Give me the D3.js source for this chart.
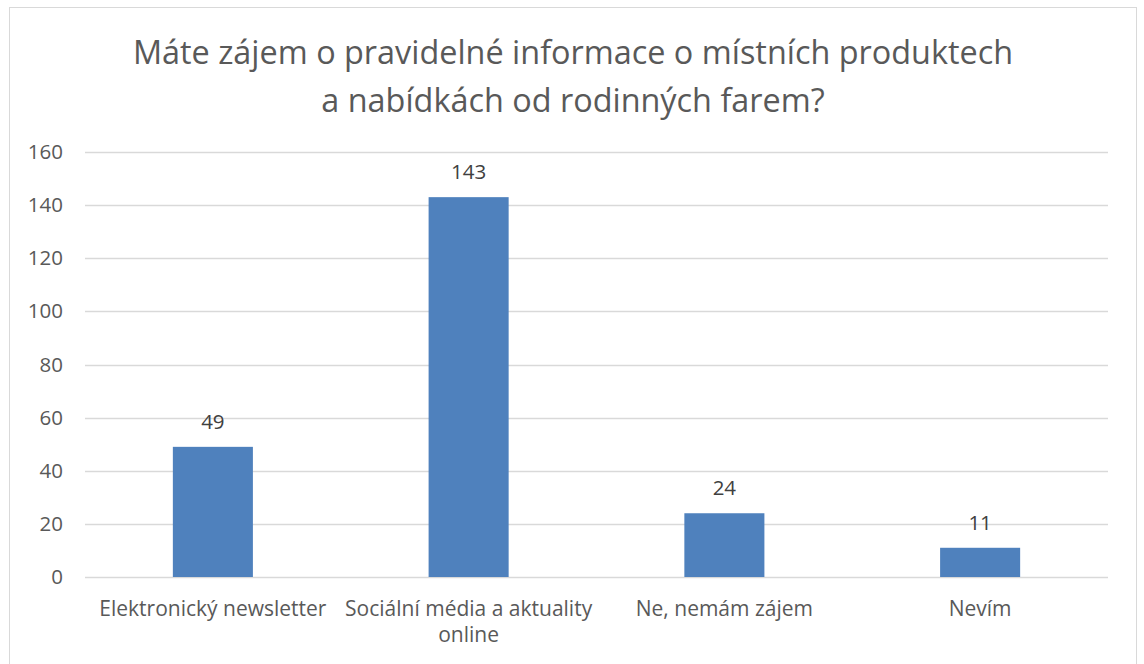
<!DOCTYPE html>
<html>
<head>
<meta charset="utf-8">
<script src="https://cdn.jsdelivr.net/npm/d3@7"></script>
<style>
  body { margin: 0; background: #fff; }
  text { font-family: "Open Sans", sans-serif; }
</style>
</head>
<body>
<svg id="chart" width="1144" height="664"></svg>
<script>
var titleLines = ['Máte zájem o pravidelné informace o místních produktech', 'a nabídkách od rodinných farem?'];
var categories = [['Elektronický newsletter'], ['Sociální média a aktuality', 'online'], ['Ne, nemám zájem'], ['Nevím']];
var values = [49, 143, 24, 11];
var yTicks = [0, 20, 40, 60, 80, 100, 120, 140, 160];

var svg = d3.select('#chart');
var plotL = 85, plotR = 1108, plotT = 152, plotB = 577;

// outer frame
svg.append('rect')
  .attr('x', 9.5).attr('y', 7.5)
  .attr('width', 1127).attr('height', 700)
  .attr('fill', 'none')
  .attr('stroke', '#d9d9d9');

svg.selectAll('.title')
  .data(titleLines)
  .enter().append('text')
  .attr('class', 'title')
  .attr('x', 573)
  .attr('y', function(d, i) { return 64 + i * 48; })
  .attr('text-anchor', 'middle')
  .attr('font-size', 32.4)
  .attr('fill', '#595959')
  .text(function(d) { return d; });

var x = d3.scaleBand()
  .domain(d3.range(values.length))
  .range([plotL, plotR])
  .paddingInner(0.687)
  .paddingOuter(0.3435);

var y = d3.scaleLinear().domain([0, 160]).range([plotB, plotT]);

// gridlines
svg.append('g')
  .selectAll('line')
  .data(yTicks)
  .enter().append('line')
  .attr('x1', plotL).attr('x2', plotR)
  .attr('y1', function(d) { return Math.round(y(d)) + 0.5; })
  .attr('y2', function(d) { return Math.round(y(d)) + 0.5; })
  .attr('stroke', '#d9d9d9')
  .attr('stroke-width', 1.3);

// y axis labels
var yAxis = d3.axisLeft(y).tickValues(yTicks).tickSize(0).tickPadding(0);
var yg = svg.append('g').attr('transform', 'translate(63,0)').call(yAxis);
yg.select('.domain').remove();
yg.selectAll('text')
  .attr('font-size', 20.5)
  .attr('fill', '#595959')
  .attr('font-family', '"Open Sans", sans-serif');

// bars
svg.append('g')
  .selectAll('rect')
  .data(values)
  .enter().append('rect')
  .attr('x', function(d, i) { return x(i); })
  .attr('y', function(d) { return y(d); })
  .attr('width', x.bandwidth())
  .attr('height', function(d) { return y(0) - y(d); })
  .attr('fill', '#4f81bd');

// value labels
svg.append('g')
  .selectAll('text')
  .data(values)
  .enter().append('text')
  .attr('x', function(d, i) { return x(i) + x.bandwidth() / 2; })
  .attr('y', function(d) { return y(d) - 18; })
  .attr('text-anchor', 'middle')
  .attr('font-size', 20.5)
  .attr('fill', '#404040')
  .text(function(d) { return d; });

// category labels
var cat = svg.append('g')
  .selectAll('text')
  .data(categories)
  .enter().append('text')
  .attr('x', function(d, i) { return x(i) + x.bandwidth() / 2; })
  .attr('y', 616)
  .attr('text-anchor', 'middle')
  .attr('font-size', 21)
  .attr('fill', '#595959');
cat.selectAll('tspan')
  .data(function(d) { return d; })
  .enter().append('tspan')
  .attr('x', function() { return d3.select(this.parentNode).attr('x'); })
  .attr('dy', function(d, i) { return i === 0 ? 0 : 26; })
  .text(function(d) { return d; });
</script>
</body>
</html>
